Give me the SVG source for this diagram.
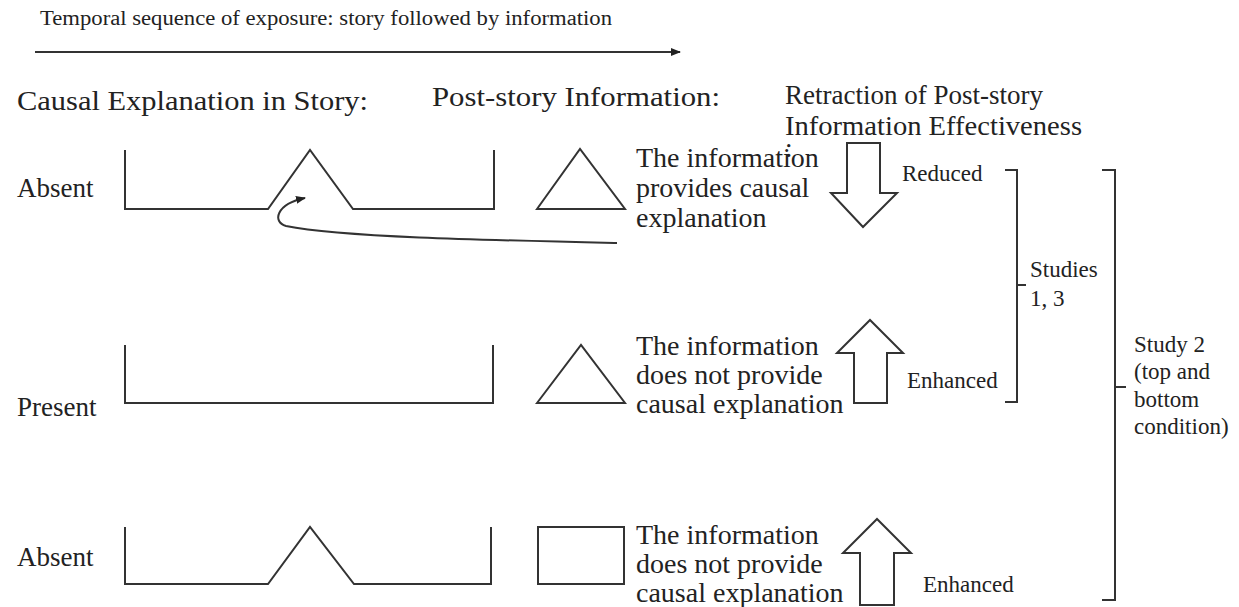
<svg xmlns="http://www.w3.org/2000/svg" width="1239" height="607" viewBox="0 0 1239 607">
<style>
text{font-family:"Liberation Serif","Times New Roman",serif;fill:#222}
.t{font-size:20px}
.h{font-size:27px}
.b{font-size:28px}
.s{font-size:23px}
.ln{fill:none;stroke:#333;stroke-width:2}
.ar{fill:#fff;stroke:#333;stroke-width:2;stroke-linejoin:miter}
</style>
<defs>
<marker id="ah" markerWidth="10" markerHeight="8" refX="9" refY="4" orient="auto" markerUnits="userSpaceOnUse">
<path d="M0,0 L10,4 L0,8 z" fill="#222"/>
</marker>
</defs>
<g id="header">
<text class="t" x="40" y="25" textLength="572" lengthAdjust="spacingAndGlyphs">Temporal sequence of exposure: story followed by information</text>
<text class="h" x="17" y="110" textLength="351" lengthAdjust="spacingAndGlyphs">Causal Explanation in Story:</text>
<text class="h" x="432" y="106" textLength="288" lengthAdjust="spacingAndGlyphs">Post-story Information:</text>
<text class="h" x="785" y="104">Retraction of Post-story</text>
<text class="h" x="785" y="135" textLength="297" lengthAdjust="spacingAndGlyphs">Information Effectiveness</text>
<text class="h" x="785" y="157">:</text>
</g>
<g id="row1">
<text class="h" x="17" y="197">Absent</text>
<path class="ln" d="M125,150 V209 H268 L310,150 L353,209 H494 V150"/>
<path class="ln" d="M537,209 L580,149 L625,209 Z"/>
<text class="b" x="636" y="167">The information</text>
<text class="b" x="636" y="197">provides causal</text>
<text class="b" x="636" y="227">explanation</text>
<path class="ar" d="M847,143 H880 V193 H897 L863,227 L831,193 H847 Z"/>
<text class="s" x="902" y="181">Reduced</text>
</g>
<g id="row2">
<text class="h" x="17" y="416">Present</text>
<path class="ln" d="M125,345 V403 H493 V345"/>
<path class="ln" d="M537,403 L581,345 L625,403 Z"/>
<text class="b" x="636" y="355">The information</text>
<text class="b" x="636" y="384">does not provide</text>
<text class="b" x="636" y="413">causal explanation</text>
<path class="ar" d="M854,403 V353 H837 L870,320 L903,353 H887 V403 Z"/>
<text class="s" x="907" y="388">Enhanced</text>
</g>
<g id="row3">
<text class="h" x="17" y="566">Absent</text>
<path class="ln" d="M125,527 V584 H268 L310,527 L354,584 H491 V527"/>
<rect class="ln" x="538" y="527" width="86" height="57"/>
<text class="b" x="636" y="544">The information</text>
<text class="b" x="636" y="573">does not provide</text>
<text class="b" x="636" y="602">causal explanation</text>
<path class="ar" d="M860,605 V553 H843 L877,519 L911,553 H894 V605 Z"/>
<text class="s" x="923" y="592">Enhanced</text>
</g>
<g id="studies13">
<path class="ln" d="M1005,170 H1017 V402 H1005 M1017,285 H1026"/>
<text class="s" x="1030" y="277">Studies</text>
<text class="s" x="1030" y="306">1, 3</text>
</g>
<g id="study2">
<path class="ln" d="M1102,170 H1115 V600 H1102 M1115,387 H1126"/>
<text class="s" x="1134" y="352">Study 2</text>
<text class="s" x="1134" y="379">(top and</text>
<text class="s" x="1134" y="407">bottom</text>
<text class="s" x="1134" y="434">condition)</text>
</g>
<g id="connectors">
<line class="ln" x1="35" y1="52" x2="680" y2="52" marker-end="url(#ah)"/>
<path class="ln" d="M617,243 C480,240 340,237 286,226 C272,222 276,204 305,198" marker-end="url(#ah)"/>
</g>
</svg>
